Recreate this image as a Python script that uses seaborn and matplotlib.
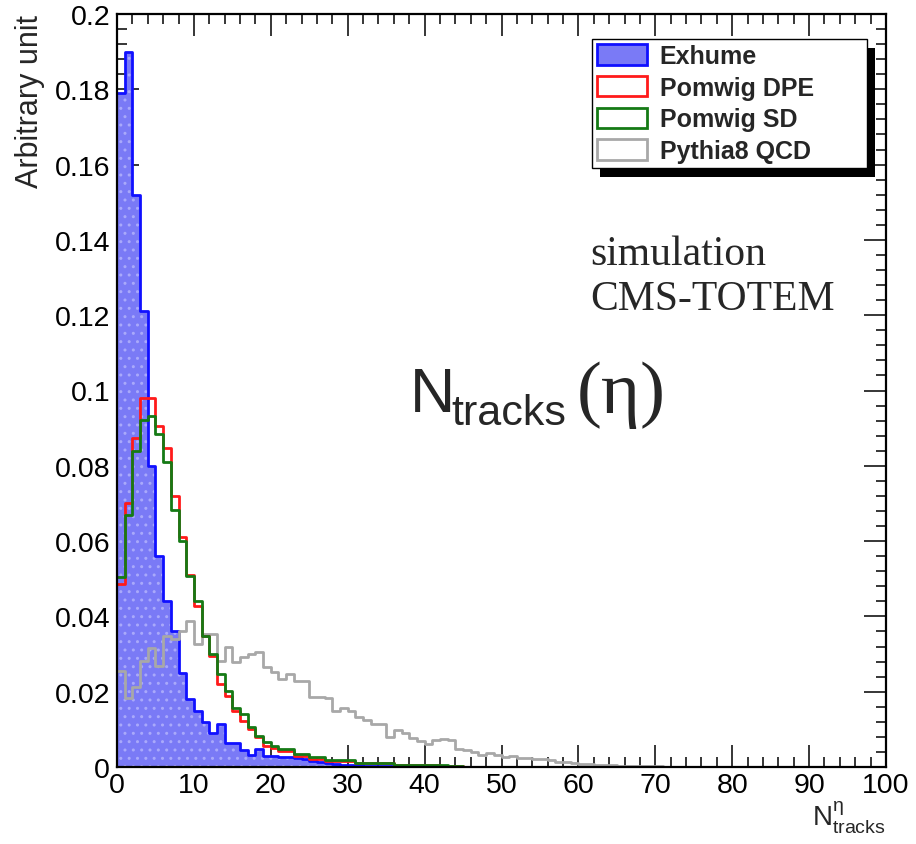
import numpy as np
import pandas as pd
import matplotlib
matplotlib.use("Agg")
import matplotlib.pyplot as plt
from matplotlib.patches import Patch, Rectangle
from matplotlib.ticker import MultipleLocator, FixedLocator, FixedFormatter
from matplotlib.transforms import IdentityTransform
import seaborn as sns

# ---- data: normalised track-multiplicity distributions, unit-width bins from 0 ----
bin_edges = list(range(0, 101))

exhume = [0.179, 0.190, 0.152, 0.121, 0.080, 0.056, 0.044, 0.036, 0.025, 0.018,
          0.015, 0.012, 0.0089, 0.0115, 0.0065, 0.0063, 0.0046, 0.0031, 0.0048, 0.0030,
          0.0030, 0.0026, 0.0026, 0.0024, 0.0022, 0.0015, 0.0012, 0.0010, 0.0008, 0.0006,
          0.0005, 0.0004, 0.0003, 0.0003, 0.0002, 0.0002]

pomwig_dpe = [0.0486, 0.0700, 0.0874, 0.0980, 0.0980, 0.0906, 0.0847, 0.0721, 0.0610, 0.0510,
              0.0428, 0.0347, 0.0296, 0.0220, 0.0189, 0.0150, 0.0123, 0.0102, 0.0080, 0.0057,
              0.0050, 0.0043, 0.0043, 0.0030, 0.0030, 0.0022, 0.0022, 0.0016, 0.0016, 0.0016,
              0.0016, 0.0010, 0.0010, 0.0010, 0.0010, 0.0010, 0.0005, 0.0005, 0.0005, 0.0005,
              0.0005, 0.0004, 0.0003, 0.0002, 0.0002, 0.0001]

pomwig_sd = [0.0504, 0.0670, 0.0840, 0.0922, 0.0933, 0.0884, 0.0811, 0.0683, 0.0601, 0.0508,
             0.0441, 0.0347, 0.0300, 0.0247, 0.0203, 0.0158, 0.0141, 0.0105, 0.0083, 0.0066,
             0.0055, 0.0048, 0.0048, 0.0035, 0.0035, 0.0027, 0.0027, 0.0018, 0.0018, 0.0018,
             0.0018, 0.0010, 0.0010, 0.0010, 0.0010, 0.0010, 0.0005, 0.0005, 0.0005, 0.0005,
             0.0005, 0.0005, 0.0004, 0.0003, 0.0002, 0.0001]

pythia8_qcd = [0.0256, 0.0182, 0.0212, 0.0282, 0.0315, 0.0269, 0.0349, 0.0340, 0.0362, 0.0389,
               0.0327, 0.0353, 0.0353, 0.0282, 0.0318, 0.0278, 0.0291, 0.0300, 0.0305, 0.0265,
               0.0251, 0.0234, 0.0247, 0.0229, 0.0229, 0.0185, 0.0185, 0.0182, 0.0150, 0.0157,
               0.0150, 0.0133, 0.0124, 0.0113, 0.0113, 0.0080, 0.0098, 0.0089, 0.0078, 0.0069,
               0.0062, 0.0071, 0.0074, 0.0071, 0.0049, 0.0045, 0.0039, 0.0031, 0.0036, 0.0031,
               0.0027, 0.0028, 0.0024, 0.0024, 0.0022, 0.0022, 0.0018, 0.0014, 0.0014, 0.0011,
               0.0009, 0.0009, 0.0005, 0.0005, 0.0005, 0.0002, 0.0002, 0.0002, 0.0002, 0.0002,
               0.0002, 0.0001, 0.0001, 0.0001, 0.0001, 0.0001]

series_names = ["Exhume", "Pomwig DPE", "Pomwig SD", "Pythia8 QCD"]
x_ticks = [0, 10, 20, 30, 40, 50, 60, 70, 80, 90, 100]
y_ticks = [0, 0.02, 0.04, 0.06, 0.08, 0.1, 0.12, 0.14, 0.16, 0.18, 0.2]
y_tick_labels = ["0", "0.02", "0.04", "0.06", "0.08", "0.1", "0.12", "0.14", "0.16", "0.18", "0.2"]


def to_frame(values, name):
    centers = np.asarray(bin_edges[:len(values)], dtype=float) + 0.5
    return pd.DataFrame({"n": centers, "frac": values, "sample": name})


df = pd.concat([to_frame(exhume, series_names[0]),
                to_frame(pomwig_dpe, series_names[1]),
                to_frame(pomwig_sd, series_names[2]),
                to_frame(pythia8_qcd, series_names[3])], ignore_index=True)

# ---- style ----
sns.set_theme(style="ticks")
plt.rcParams["font.family"] = ["Liberation Sans", "DejaVu Sans"]
plt.rcParams["mathtext.fontset"] = "custom"
plt.rcParams["mathtext.rm"] = "Liberation Sans"
plt.rcParams["mathtext.it"] = "Liberation Sans"
plt.rcParams["mathtext.bf"] = "Liberation Sans:bold"
plt.rcParams["hatch.linewidth"] = 1.0

W, H = 916, 845
fig = plt.figure(figsize=(W / 100, H / 100), dpi=100)
fig.patch.set_facecolor("white")
ax = fig.add_axes([117 / W, 1 - 768 / H, (886 - 117) / W, (768 - 15) / H])
ax.set_facecolor("white")

fill_col = "#7a7af6"
dot_col = "#a9a9fb"
line_cols = {"Exhume": "#1010ff", "Pomwig DPE": "#ff1a1a",
             "Pomwig SD": "#157a15", "Pythia8 QCD": "#a8a8a8"}

sub = df[df["sample"] == "Exhume"]
# filled area of the Exhume histogram
sns.histplot(data=sub, x="n", weights="frac", bins=bin_edges, element="step",
             fill=True, color=fill_col, alpha=1, linewidth=0, ax=ax)
# fine dotted texture over the fill
sns.histplot(data=sub, x="n", weights="frac", bins=bin_edges, element="step",
             fill=True, color=dot_col, facecolor="none", edgecolor=dot_col, hatch="..",
             alpha=1, linewidth=0, ax=ax)

for name in ["Exhume", "Pythia8 QCD", "Pomwig DPE", "Pomwig SD"]:
    sns.histplot(data=df[df["sample"] == name], x="n", weights="frac", bins=bin_edges,
                 element="step", fill=False, color=line_cols[name], linewidth=2.0, ax=ax)

ax.set_xlim(0, 100)
ax.set_ylim(0, 0.2)

# ---- axes frame and ticks ----
for s in ax.spines.values():
    s.set_visible(True)
    s.set_color("black")
    s.set_linewidth(1.6)
ax.xaxis.set_major_locator(FixedLocator(x_ticks))
ax.xaxis.set_minor_locator(MultipleLocator(2))
ax.yaxis.set_major_locator(FixedLocator(y_ticks))
ax.yaxis.set_major_formatter(FixedFormatter(y_tick_labels))
ax.yaxis.set_minor_locator(MultipleLocator(0.004))
ax.tick_params(which="both", direction="in", top=True, right=True, colors="black")
ax.tick_params(which="major", length=16, width=1.1, labelsize=20.5)
ax.tick_params(which="minor", length=7.5, width=1.1)
ax.tick_params(axis="x", which="major", pad=3.5)
ax.tick_params(axis="y", which="major", pad=5)

ax.set_ylabel("Arbitrary unit", fontsize=22, loc="top")
ax.yaxis.set_label_coords(-0.093, 1.0)
ax.set_xlabel(r"$\mathrm{N}^{\eta}_{\mathrm{tracks}}$", fontsize=20, ha="right")
ax.xaxis.set_label_coords(1.0, -0.042)

# ---- legend with drop shadow ----
handles = [Patch(facecolor=fill_col, edgecolor=line_cols["Exhume"], linewidth=2),
           Patch(facecolor="white", edgecolor=line_cols["Pomwig DPE"], linewidth=2),
           Patch(facecolor="white", edgecolor=line_cols["Pomwig SD"], linewidth=2),
           Patch(facecolor="white", edgecolor=line_cols["Pythia8 QCD"], linewidth=2)]
leg = ax.legend(handles, series_names, loc="upper left", mode="expand",
                bbox_to_anchor=(592 / W, 1 - 167 / H, (867 - 592) / W, (167 - 40) / H),
                bbox_transform=fig.transFigure, borderaxespad=0,
                prop={"family": "Liberation Sans", "weight": "bold", "size": 18},
                handlelength=2.0, handleheight=0.88, handletextpad=0.5,
                borderpad=0.2, labelspacing=0.31, fancybox=False, framealpha=1)
leg.get_frame().set_edgecolor("black")
leg.get_frame().set_linewidth(1.0)
leg.set_zorder(6)

fig.canvas.draw()
bb = leg.get_window_extent(fig.canvas.get_renderer())
ax.add_patch(Rectangle((bb.x0 + 8, bb.y0 - 9), bb.width, bb.height,
                       transform=IdentityTransform(), facecolor="black",
                       edgecolor="none", zorder=5.5, clip_on=False))

# ---- annotations ----
def fx(px):
    return px / W


def fy(py):
    return 1 - py / H


fig.text(fx(590), fy(265), "simulation", family="Liberation Serif", fontsize=30,
         va="baseline", ha="left")
fig.text(fx(590), fy(310), "CMS-TOTEM", family="Liberation Serif", fontsize=30,
         va="baseline", ha="left")

fig.text(fx(410), fy(412), "N", fontsize=45, va="baseline", ha="left")
fig.text(fx(451), fy(425), "tracks", fontsize=31, va="baseline", ha="left")
fig.text(fx(577), fy(413), "(\u03b7)", family="Liberation Serif", fontsize=54,
         va="baseline", ha="left")

fig.savefig("out.png", dpi=100, facecolor="white")
